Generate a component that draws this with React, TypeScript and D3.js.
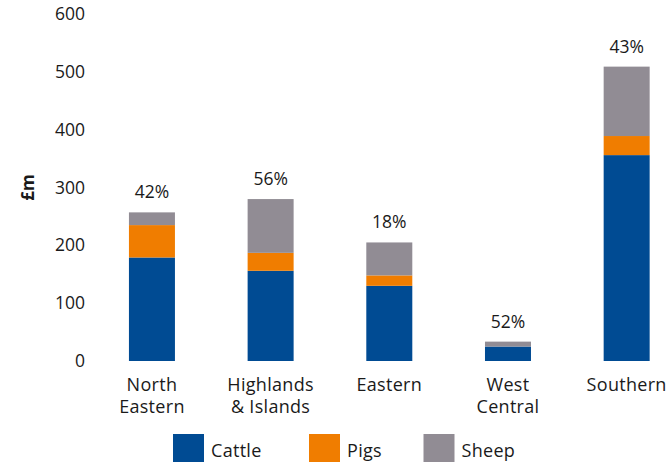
import React from "react";
import * as d3 from "d3";

const categories = [["North", "Eastern"], ["Highlands", "& Islands"], ["Eastern"], ["West", "Central"], ["Southern"]];
const cattle = [179, 156, 130, 25, 356];
const pigs = [56, 31, 18, 0, 33];
const sheep = [22, 93, 57, 8.5, 120];
const shares = ["42%", "56%", "18%", "52%", "43%"];
const yTicks = [0, 100, 200, 300, 400, 500, 600];
const seriesNames = ["Cattle", "Pigs", "Sheep"];
const colors = ["#004B93", "#F07D00", "#918C94"];

const W = 667, H = 462;
const font = "'Open Sans', Inter, sans-serif";

export default function App() {
  const keys = categories.map((c) => c.join(" "));
  const x = d3.scaleBand().domain(keys).range([92.6, 686]).paddingInner(0.612).paddingOuter(0.306);
  const y = d3.scaleLinear().domain([0, 600]).range([361, 14]);
  const rows = keys.map((k, i) => ({ key: k, Cattle: cattle[i], Pigs: pigs[i], Sheep: sheep[i] }));
  const stacked = d3.stack<any>().keys(seriesNames)(rows);
  const bw = 46;
  const legendX = [173, 309, 423.5];
  return (
    <svg width={W} height={H} style={{ position: "absolute", left: 0, top: 0 }} fontFamily={font}>
      {yTicks.map((t) => (
        <text key={t} x={85} y={y(t)} dy="0.35em" textAnchor="end" fontSize={17.5} fill="#1a1a1a">{t}</text>
      ))}
      <text transform={`translate(28,${y(300)}) rotate(-90)`} textAnchor="middle" dy="0.35em" fontSize={17} fontWeight="bold" fill="#1a1a1a">£m</text>
      {stacked.map((s, si) => (
        <g key={s.key} fill={colors[si]}>
          {s.map((d, i) => {
            const cx = x(keys[i])! + x.bandwidth() / 2;
            return <rect key={i} x={cx - bw / 2} width={bw} y={y(d[1])} height={Math.max(0, y(d[0]) - y(d[1]))} />;
          })}
        </g>
      ))}
      {keys.map((k, i) => {
        const cx = x(k)! + x.bandwidth() / 2;
        const top = cattle[i] + pigs[i] + sheep[i];
        return (
          <g key={k}>
            <text x={cx} y={y(top) - 14} textAnchor="middle" fontSize={17.5} fill="#1a1a1a">{shares[i]}</text>
            {categories[i].map((line, li) => (
              <text key={li} x={cx} y={391 + li * 22} textAnchor="middle" fontSize={18} letterSpacing={0.3} fill="#1a1a1a">{line}</text>
            ))}
          </g>
        );
      })}
      {seriesNames.map((n, i) => (
        <g key={n}>
          <rect x={legendX[i]} y={434} width={31} height={31} fill={colors[i]} />
          <text x={legendX[i] + 38} y={457} fontSize={18} letterSpacing={0.3} fill="#1a1a1a">{n}</text>
        </g>
      ))}
    </svg>
  );
}
